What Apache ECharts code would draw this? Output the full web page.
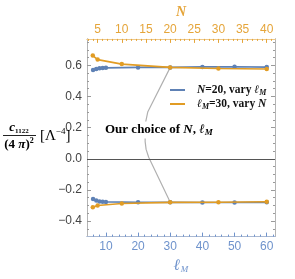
<!DOCTYPE html>
<html><head><meta charset="utf-8">
<script src="https://cdn.jsdelivr.net/npm/echarts@6/dist/echarts.min.js"></script>
<style>html,body{margin:0;padding:0;background:#fff}#c{width:295px;height:279px}</style>
</head><body><div id="c"></div>
<script>
// ---- data ----
const ellM = [6, 7, 8, 9, 10, 20, 30, 40, 50, 60];
const blueTop = [0.570, 0.577, 0.581, 0.583, 0.584, 0.587, 0.587, 0.590, 0.591, 0.589];
const blueBot = [-0.258, -0.268, -0.274, -0.276, -0.277, -0.279, -0.280, -0.281, -0.281, -0.280];
const NVals = [4, 5, 10, 20, 30, 40];
const orangeTop = [0.663, 0.637, 0.608, 0.587, 0.580, 0.577];
const orangeBot = [-0.311, -0.300, -0.287, -0.280, -0.279, -0.276];
const ellTicks = [10, 20, 30, 40, 50, 60];
const ellMinor = [6, 8, 12, 14, 16, 18, 22, 24, 26, 28, 32, 34, 36, 38, 42, 44, 46, 48, 52, 54, 56, 58, 62];
const NTicks = [5, 10, 15, 20, 25, 30, 35, 40];
const NMinor = [3, 4, 6, 7, 8, 9, 11, 12, 13, 14, 16, 17, 18, 19, 21, 22, 23, 24, 26, 27, 28, 29, 31, 32, 33, 34, 36, 37, 38, 39, 41];
const yTicks = [-0.4, -0.2, 0.0, 0.2, 0.4, 0.6];
const yMinor = [-0.45, -0.35, -0.3, -0.25, -0.15, -0.1, -0.05, 0.05, 0.1, 0.15, 0.25, 0.3, 0.35, 0.45, 0.5, 0.55, 0.65, 0.7, 0.75];
// annotation path (data coords on ℓ_M / value axes)
const calloutEll = [30, 23.0, 22.4, 22.2, 22.2, 22.5, 23.3, 30];
const calloutVal = [0.587, 0.30, 0.24, 0.18, 0.11, 0.06, 0.01, -0.280];
const legendBlue = 'N=20, vary ℓM';
const legendOrange = 'ℓM=30, vary N';

const BLUE = '#5E81B5', ORANGE = '#E19C24';
const SERIF = '"Liberation Serif","DejaVu Serif",serif';
const SANS = '"Liberation Sans",Arial,sans-serif';
const X0 = [4.12, 62.57], XN = [2.8, 41.71], YR = [-0.5, 0.77];

function fmt(v) { return (v < 0 ? '\u2212' : '') + Math.abs(v).toFixed(1); }
function zip(a, b) { return a.map((v, i) => [v, b[i]]); }

function xAx(pos, range, vals, color, lineColor, major, showLabel) {
  return {
    type: 'value', position: pos, min: range[0], max: range[1],
    axisLine: { show: true, onZero: false, lineStyle: { color: lineColor, width: 1 } },
    axisTick: { show: true, inside: true, length: major ? 4 : 2, customValues: vals, lineStyle: { color: color } },
    axisLabel: { show: showLabel, customValues: vals, color: color, fontFamily: SANS, fontSize: 12, margin: pos === 'top' ? 3 : 4 },
    splitLine: { show: false },
    nameLocation: 'middle'
  };
}
function yAx(pos, vals, major, showLabel) {
  return {
    type: 'value', position: pos, min: YR[0], max: YR[1],
    axisLine: { show: true, onZero: false, lineStyle: { color: '#b4b4b4', width: 1 } },
    axisTick: { show: true, inside: true, length: major ? 4 : 2, customValues: vals, lineStyle: { color: '#9a9a9a' } },
    axisLabel: { show: showLabel, customValues: vals, color: '#444', fontFamily: SANS, fontSize: 12, margin: 5, formatter: fmt },
    splitLine: { show: false }
  };
}

const xAxes = [
  xAx('bottom', X0, ellTicks, '#6f93cc', '#a9b8d2', true, true),
  xAx('top', XN, NTicks, '#E5A53A', '#eec98a', true, true),
  xAx('bottom', X0, ellMinor, '#6f93cc', '#a9b8d2', false, false),
  xAx('top', XN, NMinor, '#E5A53A', '#eec98a', false, false)
];
xAxes[0].name = '{l|ℓ}{s|M}';
xAxes[0].nameGap = 16;
xAxes[0].nameTextStyle = { rich: { l: { fontFamily: SERIF, fontStyle: 'italic', fontWeight: 'bold', fontSize: 16, color: '#6f93cc' }, s: { fontFamily: SERIF, fontStyle: 'italic', fontSize: 9, color: '#6f93cc', padding: [8, 0, 0, 0] } } };
xAxes[1].name = 'N';
xAxes[1].nameGap = 17;
xAxes[1].nameTextStyle = { fontFamily: SERIF, fontStyle: 'italic', fontWeight: 'bold', fontSize: 14, color: '#E5A53A' };

const yAxes = [yAx('left', yTicks, true, true), yAx('right', yTicks, true, false), yAx('left', yMinor, false, false), yAx('right', yMinor, false, false)];

const line = (name, xi, data, color, extra) => Object.assign({
  name, type: 'line', xAxisIndex: xi, yAxisIndex: 0, data,
  symbol: 'circle', symbolSize: 4.5, lineStyle: { color, width: 1.6 }, itemStyle: { color },
  z: 3, animation: false
}, extra || {});

const richLegend = {
  i: { fontFamily: SERIF, fontStyle: 'italic', fontWeight: 'bold', fontSize: 11.5, color: '#111' },
  n: { fontFamily: SERIF, fontWeight: 'bold', fontSize: 11.5, color: '#111' },
  s: { fontFamily: SERIF, fontStyle: 'italic', fontWeight: 'bold', fontSize: 8, color: '#111', padding: [6, 0, 0, 0] },
  g: { width: 7 }
};
const richCallout = {
  i: { fontFamily: SERIF, fontStyle: 'italic', fontWeight: 'bold', fontSize: 13, color: '#111' },
  n: { fontFamily: SERIF, fontWeight: 'bold', fontSize: 13, color: '#111' },
  s: { fontFamily: SERIF, fontStyle: 'italic', fontWeight: 'bold', fontSize: 9, color: '#111', padding: [6, 0, 0, 0] }
};

const chart = echarts.init(document.getElementById('c'), null, { renderer: 'canvas' });
chart.setOption({
  animation: false,
  grid: { left: 87, right: 20, top: 35, bottom: 36, containLabel: false },
  xAxis: xAxes,
  yAxis: yAxes,
  legend: {
    left: 165, top: 79, orient: 'vertical', itemGap: 1, itemWidth: 15, itemHeight: 2,
    icon: 'rect', data: [legendBlue, legendOrange],
    formatter: n => n === legendBlue ? '{g|}{i|N}{n|=20, vary }{i|ℓ}{s|M}' : '{g|}{i|ℓ}{s|M}{n|=30, vary }{i|N}',
    textStyle: { rich: richLegend }, selectedMode: false
  },
  series: [
    { type: 'line', xAxisIndex: 0, yAxisIndex: 0, data: zip(calloutEll, calloutVal), symbol: 'none',
      lineStyle: { color: '#b0b0b0', width: 1.2 }, z: 1, silent: true },
    line(legendBlue, 0, zip(ellM, blueTop), BLUE, {
      markLine: { silent: true, symbol: 'none', label: { show: false }, lineStyle: { color: '#555', width: 1, type: 'solid' }, data: [{ yAxis: 0 }] }
    }),
    line(legendBlue, 0, zip(ellM, blueBot), BLUE),
    line(legendOrange, 1, zip(NVals, orangeTop), ORANGE, { z: 4 }),
    line(legendOrange, 1, zip(NVals, orangeBot), ORANGE, { z: 4 })
  ],
  graphic: [
    { type: 'text', z: 100, x: 104, y: 130, style: {
        text: '{n|Our choice of }{i|N}{n|, }{i|ℓ}{s|M}', verticalAlign: 'middle', backgroundColor: '#fff', padding: [1, 1, 1, 1],
        rich: richCallout } },
    { type: 'text', z: 100, x: 19, y: 128, style: {
        text: '{c|c}{s|1122}', align: 'center', verticalAlign: 'middle',
        rich: { c: { fontFamily: SERIF, fontStyle: 'italic', fontWeight: 'bold', fontSize: 13, color: '#111' },
                s: { fontFamily: SERIF, fontWeight: 'bold', fontSize: 7, color: '#111', padding: [6, 0, 0, 0] } } } },
    { type: 'line', z: 100, shape: { x1: 3, y1: 135.5, x2: 36, y2: 135.5 }, style: { stroke: '#222', lineWidth: 1 } },
    { type: 'text', z: 100, x: 19, y: 145, style: {
        text: '{n|(4 }{i|π}{n|)}{p|2}', align: 'center', verticalAlign: 'middle',
        rich: { n: { fontFamily: SERIF, fontWeight: 'bold', fontSize: 13, color: '#111' },
                i: { fontFamily: SERIF, fontStyle: 'italic', fontWeight: 'bold', fontSize: 13, color: '#111' },
                p: { fontFamily: SERIF, fontWeight: 'bold', fontSize: 8, color: '#111', padding: [0, 0, 8, 0] } } } },
    { type: 'text', z: 100, x: 40, y: 136, style: {
        text: '{n|[Λ}{p|−4}{n|]}', verticalAlign: 'middle',
        rich: { n: { fontFamily: SERIF, fontSize: 15, color: '#111' },
                p: { fontFamily: SERIF, fontSize: 9, color: '#111', padding: [0, 0, 9, 0] } } } }
  ]
});
</script></body></html>
